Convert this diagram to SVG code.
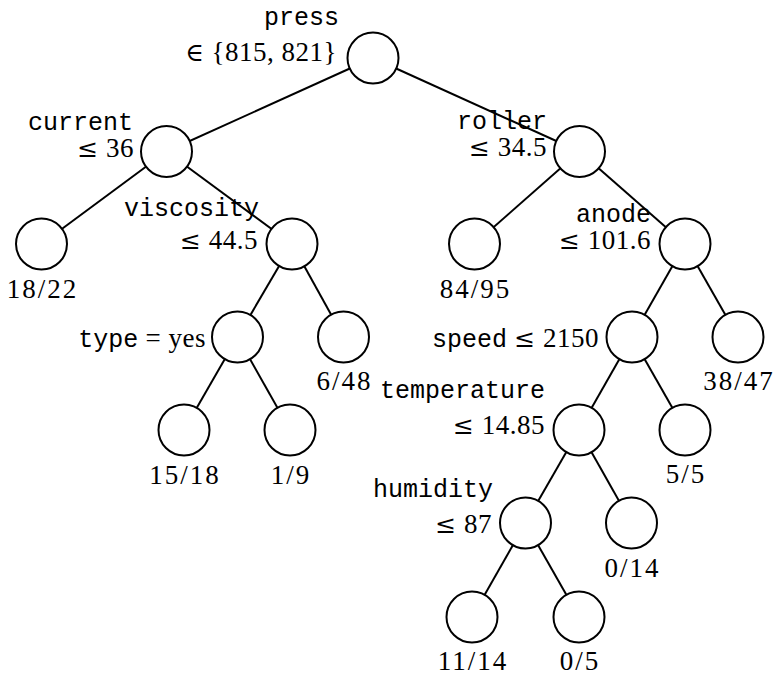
<svg xmlns="http://www.w3.org/2000/svg" width="776" height="680" viewBox="0 0 776 680">
<style>
.n{fill:#fff;stroke:#000;stroke-width:2}
.e{stroke:#000;stroke-width:2;fill:none}
.tt{font-family:"Liberation Mono","DejaVu Sans Mono",monospace;font-size:25px;fill:#000}
.rm{font-family:"Liberation Serif","DejaVu Serif",serif;font-size:27px;fill:#000;letter-spacing:0.5px}
.fr{letter-spacing:2px}
.sym{font-family:"DejaVu Serif","Liberation Serif",serif;font-size:25px}
.r{text-anchor:end}
.c{text-anchor:middle}
</style>
<rect width="776" height="680" fill="#fff"/>
<g id="connectors">
<line class="e" x1="373" y1="58" x2="166.5" y2="151.5"/>
<line class="e" x1="373" y1="58" x2="579.5" y2="151.5"/>
<line class="e" x1="166.5" y1="151.5" x2="41.5" y2="244"/>
<line class="e" x1="166.5" y1="151.5" x2="292" y2="244"/>
<line class="e" x1="292" y1="244" x2="237.5" y2="337"/>
<line class="e" x1="292" y1="244" x2="343.5" y2="337"/>
<line class="e" x1="237.5" y1="337" x2="184" y2="430"/>
<line class="e" x1="237.5" y1="337" x2="290" y2="430"/>
<line class="e" x1="579.5" y1="151.5" x2="474.5" y2="244"/>
<line class="e" x1="579.5" y1="151.5" x2="685" y2="244"/>
<line class="e" x1="685" y1="244" x2="632" y2="337"/>
<line class="e" x1="685" y1="244" x2="738" y2="337"/>
<line class="e" x1="632" y1="337" x2="579" y2="430"/>
<line class="e" x1="632" y1="337" x2="685" y2="430"/>
<line class="e" x1="579" y1="430" x2="525.5" y2="523"/>
<line class="e" x1="579" y1="430" x2="631.5" y2="523"/>
<line class="e" x1="525.5" y1="523" x2="472" y2="617"/>
<line class="e" x1="525.5" y1="523" x2="579" y2="617"/>
</g>
<g id="press">
<circle class="n" cx="373" cy="58" r="25.5"/>
<text class="r"><tspan class="tt" x="339" y="25">press</tspan><tspan class="rm" x="337" y="61"><tspan class="sym">∈</tspan> {815, 821}</tspan></text>
</g>
<g id="current">
<circle class="n" cx="166.5" cy="151.5" r="25.5"/>
<text class="r"><tspan class="tt" x="133" y="130">current</tspan><tspan class="rm" x="134" y="157"><tspan class="sym">≤</tspan> 36</tspan></text>
</g>
<g id="leaf-18-22">
<circle class="n" cx="41.5" cy="244" r="25.5"/>
<text class="rm fr c" x="42.5" y="298">18/22</text>
</g>
<g id="viscosity">
<circle class="n" cx="292" cy="244" r="25.5"/>
<text class="r"><tspan class="tt" x="259" y="216">viscosity</tspan><tspan class="rm" x="258" y="249"><tspan class="sym">≤</tspan> 44.5</tspan></text>
</g>
<g id="type">
<circle class="n" cx="237.5" cy="337" r="25.5"/>
<text class="r" x="206" y="347"><tspan class="tt">type</tspan><tspan class="rm"> = yes</tspan></text>
</g>
<g id="leaf-6-48">
<circle class="n" cx="343.5" cy="337" r="25.5"/>
<text class="rm fr c" x="344.5" y="390">6/48</text>
</g>
<g id="leaf-15-18">
<circle class="n" cx="184" cy="430" r="25.5"/>
<text class="rm fr c" x="185" y="484">15/18</text>
</g>
<g id="leaf-1-9">
<circle class="n" cx="290" cy="430" r="25.5"/>
<text class="rm fr c" x="291" y="484">1/9</text>
</g>
<g id="roller">
<circle class="n" cx="579.5" cy="151.5" r="25.5"/>
<text class="r"><tspan class="tt" x="547" y="129">roller</tspan><tspan class="rm" x="547" y="156"><tspan class="sym">≤</tspan> 34.5</tspan></text>
</g>
<g id="leaf-84-95">
<circle class="n" cx="474.5" cy="244" r="25.5"/>
<text class="rm fr c" x="475.5" y="298">84/95</text>
</g>
<g id="anode">
<circle class="n" cx="685" cy="244" r="25.5"/>
<text class="r"><tspan class="tt" x="651" y="222">anode</tspan><tspan class="rm" x="651" y="249"><tspan class="sym">≤</tspan> 101.6</tspan></text>
</g>
<g id="speed">
<circle class="n" cx="632" cy="337" r="25.5"/>
<text class="r" x="599" y="347"><tspan class="tt">speed</tspan><tspan class="rm"> <tspan class="sym">≤</tspan> 2150</tspan></text>
</g>
<g id="leaf-38-47">
<circle class="n" cx="738" cy="337" r="25.5"/>
<text class="rm fr c" x="739" y="390">38/47</text>
</g>
<g id="temperature">
<circle class="n" cx="579" cy="430" r="25.5"/>
<text class="r"><tspan class="tt" x="545" y="398">temperature</tspan><tspan class="rm" x="545" y="434"><tspan class="sym">≤</tspan> 14.85</tspan></text>
</g>
<g id="leaf-5-5">
<circle class="n" cx="685" cy="430" r="25.5"/>
<text class="rm fr c" x="686" y="483">5/5</text>
</g>
<g id="humidity">
<circle class="n" cx="525.5" cy="523" r="25.5"/>
<text class="r"><tspan class="tt" x="493" y="497">humidity</tspan><tspan class="rm" x="492" y="533"><tspan class="sym">≤</tspan> 87</tspan></text>
</g>
<g id="leaf-0-14">
<circle class="n" cx="631.5" cy="523" r="25.5"/>
<text class="rm fr c" x="632.5" y="577">0/14</text>
</g>
<g id="leaf-11-14">
<circle class="n" cx="472" cy="617" r="25.5"/>
<text class="rm fr c" x="473" y="670">11/14</text>
</g>
<g id="leaf-0-5">
<circle class="n" cx="579" cy="617" r="25.5"/>
<text class="rm fr c" x="580" y="670">0/5</text>
</g>
</svg>
